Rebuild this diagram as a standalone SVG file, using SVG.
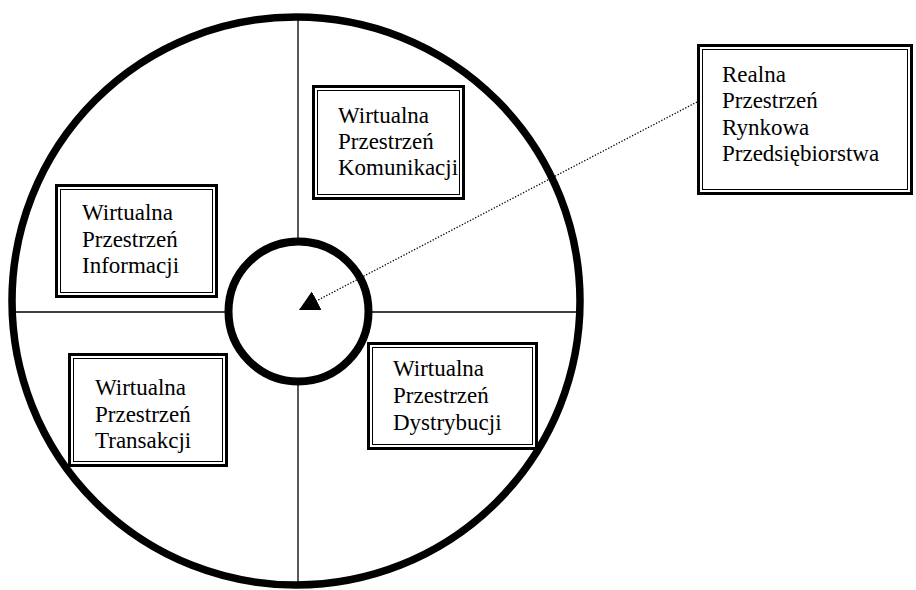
<svg xmlns="http://www.w3.org/2000/svg" width="916" height="590" viewBox="0 0 916 590">
  <style>
    .outer { fill: #fff; stroke: #000; stroke-width: 3; }
    .inner { fill: none; stroke: #000; stroke-width: 1; }
    .lbl { font-family: 'Liberation Serif', 'DejaVu Serif', 'Times New Roman', serif; font-size: 23px; fill: #000; }
    .axis { stroke: #000; stroke-width: 1.3; fill: none; }
  </style>
  <defs>
    <marker id="arrow" markerUnits="userSpaceOnUse" markerWidth="20" markerHeight="21" viewBox="0 0 20 21" refX="20" refY="10.5" orient="auto">
      <path d="M0,0 L20,10.5 L0,21 z" fill="#000"/>
    </marker>
  </defs>
  <rect width="916" height="590" fill="#fff"/>

  <g id="wheel">
    <circle cx="296" cy="301" r="284" fill="#fff" stroke="#000" stroke-width="7.5"/>
    <line class="axis" x1="298" y1="20" x2="298" y2="582"/>
    <line class="axis" x1="16" y1="312" x2="577" y2="312"/>
    <circle cx="298.5" cy="311.5" r="70" fill="#fff" stroke="#000" stroke-width="8"/>
  </g>

  <g id="informacji">
    <rect class="outer" x="56.5" y="185.5" width="160" height="111"/>
    <rect class="inner" x="60.5" y="189.5" width="152" height="103"/>
    <text class="lbl" font-family="Liberation Serif, serif"><tspan x="82" y="220">Wirtualna</tspan><tspan x="82" y="246.5">Przestrzeń</tspan><tspan x="82" y="273">Informacji</tspan></text>
  </g>

  <g id="transakcji">
    <rect class="outer" x="69.5" y="354.5" width="157" height="111"/>
    <rect class="inner" x="73.5" y="358.5" width="149" height="103"/>
    <text class="lbl" font-family="Liberation Serif, serif"><tspan x="95" y="395">Wirtualna</tspan><tspan x="95" y="421.5">Przestrzeń</tspan><tspan x="95" y="448">Transakcji</tspan></text>
  </g>

  <g id="dystrybucji">
    <rect class="outer" x="368.5" y="343.5" width="168" height="105"/>
    <rect class="inner" x="372.5" y="347.5" width="160" height="97"/>
    <text class="lbl" font-family="Liberation Serif, serif"><tspan x="393" y="376">Wirtualna</tspan><tspan x="393" y="403">Przestrzeń</tspan><tspan x="393" y="430">Dystrybucji</tspan></text>
  </g>

  <g id="komunikacji">
    <rect class="outer" x="313.5" y="86.5" width="150" height="112"/>
    <rect class="inner" x="317.5" y="90.5" width="142" height="104"/>
    <text class="lbl" font-family="Liberation Serif, serif"><tspan x="338" y="123">Wirtualna</tspan><tspan x="338" y="149">Przestrzeń</tspan><tspan x="338" y="175">Komunikacji</tspan></text>
  </g>

  <g id="realna">
    <rect class="outer" x="698.5" y="45.5" width="213" height="148"/>
    <rect class="inner" x="702.5" y="49.5" width="205" height="140"/>
    <text class="lbl" font-family="Liberation Serif, serif"><tspan x="722" y="82">Realna</tspan><tspan x="722" y="108.3">Przestrzeń</tspan><tspan x="722" y="134.6">Rynkowa</tspan><tspan x="722" y="161">Przedsiębiorstwa</tspan></text>
  </g>

  <g id="connectors">
    <line x1="697" y1="102" x2="299" y2="310" stroke="#000" stroke-width="1.3" stroke-dasharray="1.3 1.7" marker-end="url(#arrow)"/>
  </g>
</svg>
